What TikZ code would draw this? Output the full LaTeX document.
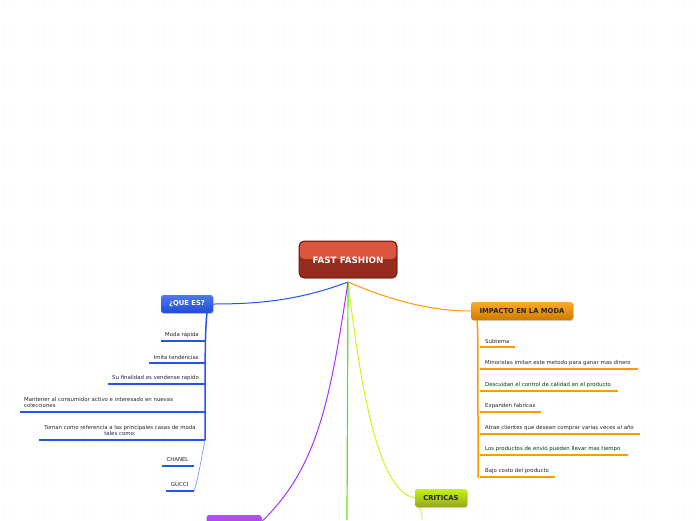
\documentclass[tikz,border=0pt]{standalone}
\usepackage{fontspec}
\setmainfont{DejaVu Sans}
\usetikzlibrary{shadows}
\definecolor{bluebr}{HTML}{2255EE}
\definecolor{bluelt}{HTML}{7799FF}
\definecolor{orangebr}{HTML}{FF9A00}
\definecolor{limebr}{HTML}{D8F020}
\definecolor{greenbr}{HTML}{55E620}
\definecolor{purplebr}{HTML}{AA33FF}
\definecolor{dotc}{HTML}{E4E4E4}
\definecolor{rootdark}{HTML}{952A1D}
\definecolor{rootlight}{HTML}{DA563F}
\definecolor{rootedge}{HTML}{6E150D}
\tikzset{
  topic/.style={rounded corners=2.5pt, minimum height=18pt, font=\fontsize{6.8}{7}\selectfont\bfseries, inner sep=0pt, drop shadow={shadow xshift=0.8pt, shadow yshift=-1pt, opacity=0.35}},
  sub/.style={font=\fontsize{5.4}{6.2}\selectfont, inner sep=0pt, text=black!85},
  uline/.style={line width=2pt},
}
\begin{document}
\begin{tikzpicture}[x=1pt,y=-1pt]
\useasboundingbox (0,0) rectangle (696,520);
\fill[white] (0,0) rectangle (696,520);
\foreach \x in {4,14,...,694} \foreach \y in {6,16,...,516} \fill[dotc] (\x,\y) circle (0.7);

% root
\coordinate (r) at (348,282);
% connectors from root
\draw[bluebr, line width=1pt] (r) .. controls (300,300) and (260,304) .. (213,304);
\draw[orangebr, line width=1pt] (r) .. controls (390,300) and (430,311) .. (471,311);
\draw[limebr, line width=1pt] (r) .. controls (362,400) and (380,492) .. (415,498);
\draw[greenbr, line width=1.2pt] (r) -- (347,520);
\draw[purplebr, line width=1pt] (r) .. controls (330,400) and (318,470) .. (258,525);
\draw[limebr, line width=0.8pt] (419,507) .. controls (422,512) and (422,516) .. (422,520);

% root node
\node[rounded corners=5pt, draw=rootedge, line width=0.8pt, minimum width=98pt, minimum height=37pt,
  fill=rootdark, drop shadow={shadow xshift=0.8pt, shadow yshift=-1pt, opacity=0.35}] (root) at (348,259.5) {};
\fill[rounded corners=4pt, rootlight] (300,242) rectangle (396,259);
\node[font=\fontsize{8.8}{9}\selectfont\bfseries, text=white] (roottxt) at (348,260.5) {FAST FASHION};

% QUE ES
\node[topic, minimum width=52pt, top color=bluebr!80!white, bottom color=bluebr!90!black, text=white] (que) at (187,304) {¿QUE ES?};
\coordinate (qa) at (207,313);
\draw[bluebr, line width=1.5pt] (qa) .. controls (205,330) and (205,360) .. (205,440);
\draw[bluelt, line width=0.7pt] (205,440) .. controls (201,460) and (198,480) .. (194,491);
\foreach \ya/\xa/\xb in {341/161/205, 363/149/205, 384/108/205, 412/20/205, 440/39/205, 466/162/194, 491/166/194}{
  \draw[bluebr, uline] (\xa,\ya) -- (\xb,\ya);
}
\node[sub, anchor=south east] (q1) at (199,337.5) {Moda rápida};
\node[sub, anchor=south east] (q2) at (199,359.5) {Imita tendencias};
\node[sub, anchor=south east] (q3) at (199,380.5) {Su finalidad es vendense rapido};
\node[sub, anchor=south west, align=left] (q4) at (24,408) {Mantener al consumidor activo e interesado en nuevas\\colecciones};
\node[sub, anchor=south, align=center] (q5) at (120,436) {Toman como referencia a las principales casas de moda\\tales como:};
\node[sub, anchor=south] (q6) at (177.5,462) {CHANEL};
\node[sub, anchor=south] (q7) at (179.5,487) {GUCCI};

% IMPACTO
\node[topic, minimum width=102pt, top color=orangebr!85!white, bottom color=orangebr!80!black, text=black!85] (imp) at (522,311) {IMPACTO EN LA MODA};
\coordinate (ia) at (477,320);
\draw[orangebr, line width=1.5pt] (ia) .. controls (478,330) and (478,340) .. (478,478);
\foreach \ya/\xb in {347/515, 369/638, 391/618, 412/541, 434/640, 455/628, 477/555}{
  \draw[orangebr, uline] (480,\ya) -- (\xb,\ya);
}
\node[sub, anchor=south west] (i1) at (485,343.5) {Subtema};
\node[sub, anchor=south west] (i2) at (485,365.5) {Minoristas imitan este metodo para ganar mas dinero};
\node[sub, anchor=south west] (i3) at (485,387.5) {Descuidan el control de calidad en el producto};
\node[sub, anchor=south west] (i4) at (485,408.5) {Expanden fabricas};
\node[sub, anchor=south west] (i5) at (485,430.5) {Atrae clientes que desean comprar varias veces al año};
\node[sub, anchor=south west] (i6) at (485,451.5) {Los productos de envió pueden llevar mas tiempo};
\node[sub, anchor=south west] (i7) at (485,473.5) {Bajo costo del producto};

% CRITICAS
\node[topic, minimum width=52pt, top color=limebr!90!green, bottom color=limebr!70!black, text=black!85] (crit) at (441,498) {CRITICAS};

% purple node (cut off)
\node[topic, minimum width=55pt, top color=purplebr!85!white, bottom color=purplebr!90!black] (purp) at (234,524) {};
\end{tikzpicture}
\end{document}
